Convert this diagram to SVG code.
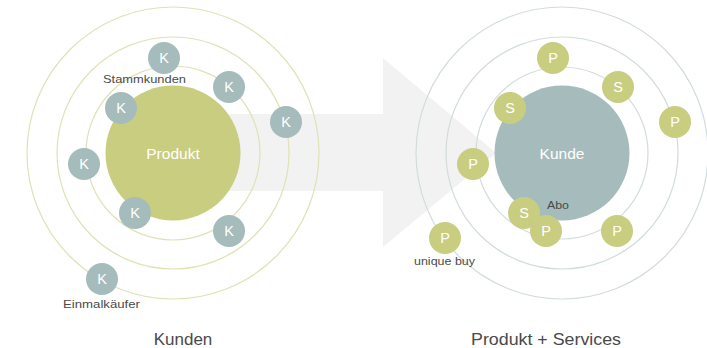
<svg xmlns="http://www.w3.org/2000/svg" width="707" height="348" viewBox="0 0 707 348">
<style>
.bg{fill:#ffffff}
.arrow{fill:#f2f2f2}
.ringL{fill:none;stroke:#e0e1b6;stroke-width:1.2}
.ringR{fill:none;stroke:#d3dcdc;stroke-width:1.2}
.green{fill:#c9cd80}
.blue{fill:#a6bcbc}
.in{font-family:"Liberation Sans","DejaVu Sans",sans-serif;fill:#ffffff;text-anchor:middle}
.big{font-size:15.5px}
.letter{font-size:14.5px}
.lbl{font-family:"Liberation Sans","DejaVu Sans",sans-serif;fill:#4a4a4a;font-size:11px}
.title{font-family:"Liberation Sans","DejaVu Sans",sans-serif;fill:#4a4a4a;font-size:17px;text-anchor:middle}
</style>
<defs>
<g id="dotK"><circle r="16" class="blue"/><text y="5.2" class="in letter">K</text></g>
<g id="dotP"><circle r="16" class="green"/><text y="5.2" class="in letter">P</text></g>
<g id="dotS"><circle r="16" class="green"/><text y="5.2" class="in letter">S</text></g>
</defs>
<rect class="bg" x="0" y="0" width="707" height="348"/>
<g id="connectors">
<path class="arrow" d="M200,114 L383,114 L383,58 L496,153 L383,247 L383,191 L200,191 Z"/>
</g>
<g id="rings-left">
<circle class="ringL" cx="173" cy="153" r="87"/>
<circle class="ringL" cx="173" cy="153" r="116"/>
<circle class="ringL" cx="173" cy="153" r="146"/>
</g>
<g id="rings-right">
<circle class="ringR" cx="562" cy="153" r="86"/>
<circle class="ringR" cx="562" cy="153" r="116"/>
<circle class="ringR" cx="562" cy="153" r="146"/>
</g>
<g id="produkt">
<circle class="green" cx="173" cy="153" r="67.5"/>
<text x="173" y="158.5" class="in big">Produkt</text>
</g>
<g id="kunde">
<circle class="blue" cx="562" cy="153" r="67.5"/>
<text x="562" y="158.5" class="in big">Kunde</text>
</g>
<g id="k1"><use href="#dotK" x="164" y="58"/></g>
<g id="k2"><use href="#dotK" x="229" y="87"/></g>
<g id="k3"><use href="#dotK" x="121" y="108"/></g>
<g id="k4"><use href="#dotK" x="286" y="122"/></g>
<g id="k5"><use href="#dotK" x="84" y="164"/></g>
<g id="k6"><use href="#dotK" x="135" y="213"/></g>
<g id="k7"><use href="#dotK" x="229" y="231"/></g>
<g id="k8"><use href="#dotK" x="102" y="279"/></g>
<g id="p1"><use href="#dotP" x="553" y="58"/></g>
<g id="s1"><use href="#dotS" x="618" y="87"/></g>
<g id="s2"><use href="#dotS" x="510" y="108"/></g>
<g id="p2"><use href="#dotP" x="675" y="122"/></g>
<g id="p3"><use href="#dotP" x="473" y="164"/></g>
<g id="s3"><use href="#dotS" x="524" y="213"/></g>
<g id="p4"><use href="#dotP" x="546" y="231"/></g>
<g id="p5"><use href="#dotP" x="617" y="231"/></g>
<g id="p6"><use href="#dotP" x="445" y="238"/></g>
<g id="labels">
<text class="lbl" x="103" y="83" textLength="83" lengthAdjust="spacingAndGlyphs">Stammkunden</text>
<text class="lbl" x="63" y="308" textLength="77" lengthAdjust="spacingAndGlyphs">Einmalkäufer</text>
<text class="lbl" x="547" y="209" textLength="22" lengthAdjust="spacingAndGlyphs">Abo</text>
<text class="lbl" x="414" y="265" textLength="61" lengthAdjust="spacingAndGlyphs">unique buy</text>
<text class="title" x="183" y="345">Kunden</text>
<text class="title" x="546" y="345" textLength="150" lengthAdjust="spacingAndGlyphs">Produkt + Services</text>
</g>
</svg>
